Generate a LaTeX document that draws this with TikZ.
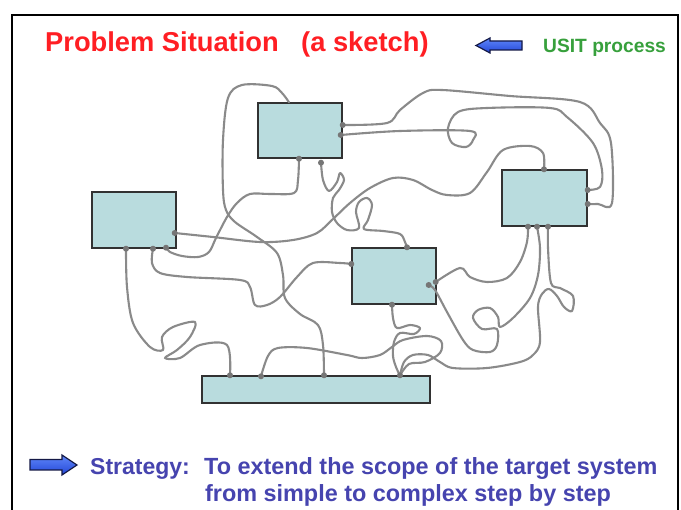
\documentclass[tikz,border=0pt]{standalone}
\usepackage{fontspec}
\setmainfont{Liberation Sans}
\definecolor{boxfill}{RGB}{185,220,222}
\definecolor{boxline}{RGB}{50,50,50}
\definecolor{wiregray}{RGB}{138,138,138}
\definecolor{dotgray}{RGB}{118,118,118}
\definecolor{titlered}{RGB}{255,30,35}
\definecolor{usitgreen}{RGB}{55,160,60}
\definecolor{stratblue}{RGB}{70,68,175}
\definecolor{arrowlight}{RGB}{95,135,250}
\definecolor{arrowdark}{RGB}{35,70,215}
\definecolor{arrowedge}{RGB}{20,25,70}
\begin{document}
\begin{tikzpicture}[x=1pt,y=-1pt,
  box/.style={draw=boxline,fill=boxfill,line width=1.4pt,inner sep=0pt},
  wire/.style={draw=wiregray,line width=2.1pt,line cap=round,line join=round},
  label/.style={inner sep=0pt,anchor=base west,font=\bfseries},
  blockarrow/.style={draw=arrowedge,line width=1.2pt,line join=miter,top color=arrowlight,bottom color=arrowdark}]
\useasboundingbox (0,0) rectangle (681,510);
\fill[white] (0,0) rectangle (681,510);
\draw[line width=1.5pt] (12,15) rectangle (678,530);

% headings
\node[label,text=titlered,font=\fontsize{27.3}{30}\selectfont\bfseries] (title) at (45,52) {Problem Situation};
\node[label,text=titlered,font=\fontsize{27.3}{30}\selectfont\bfseries] (sketch) at (301,52) {(a sketch)};
\draw[blockarrow] (476,45.5) -- (490,38) -- (490,41) -- (522,41) -- (522,50) -- (490,50) -- (490,53) -- cycle;
\node[label,text=usitgreen,font=\fontsize{19.2}{22}\selectfont\bfseries] (usit) at (543,53) {USIT process};

% blocks
\node[box,minimum width=84pt,minimum height=55pt] (A) at (300,130.5) {};
\node[box,minimum width=84pt,minimum height=56pt] (B) at (134,220) {};
\node[box,minimum width=85pt,minimum height=56pt] (C) at (544.5,198) {};
\node[box,minimum width=84pt,minimum height=56pt] (D) at (394,276) {};
\node[box,minimum width=228pt,minimum height=27pt] (E) at (316,389.5) {};

% ports on the blocks
\coordinate (pA0) at ([xshift=-11pt]A.north);
\coordinate (pA1) at ([xshift=-1pt]A.south);
\coordinate (pA2) at ([xshift=21pt,yshift=-4pt]A.south);
\coordinate (pA3) at ([yshift=5.5pt]A.east);
\coordinate (pA4) at ([xshift=-2pt,yshift=-4.5pt]A.east);
\coordinate (pB0) at ([xshift=-2pt,yshift=-13pt]B.east);
\coordinate (pB1) at ([xshift=-8pt]B.south);
\coordinate (pB2) at ([xshift=19pt]B.south);
\coordinate (pB3) at ([xshift=32pt,yshift=1pt]B.south);
\coordinate (pC0) at ([xshift=-0.5pt]C.north);
\coordinate (pC1) at ([yshift=8pt]C.east);
\coordinate (pC2) at ([yshift=-6pt]C.east);
\coordinate (pC3) at ([xshift=-16.5pt]C.south);
\coordinate (pC4) at ([xshift=-7.5pt]C.south);
\coordinate (pC5) at ([xshift=3.5pt]C.south);
\coordinate (pD0) at ([xshift=13pt]D.north);
\coordinate (pD1) at ([yshift=12pt]D.west);
\coordinate (pD2) at ([xshift=-1pt,yshift=-6pt]D.east);
\coordinate (pD3) at ([xshift=-8pt,yshift=-9pt]D.east);
\coordinate (pD4) at ([xshift=-2pt]D.south);
\coordinate (pE1) at ([xshift=-86pt]E.north);
\coordinate (pE2) at ([xshift=-55pt,yshift=-1pt]E.north);
\coordinate (pE3) at ([xshift=8pt]E.north);
\coordinate (pE4) at ([xshift=84pt]E.north);

% tangled connections
\begin{scope}[wire]
\draw plot[smooth,tension=0.55] coordinates {(pA0) (282,93) (272,86) (242,85) (228,98) (223,140) (223,190) (226,210) (235,222) (257,237) (277,253) (283,275) (285,298) (300,314) (318,325) (323,345) (pE3)};
\draw plot[smooth,tension=0.55] coordinates {(pA1) (298,180) (294,193) (270,194) (250,194) (237,203) (227,217) (216,238) (209,252) (198,257) (182,256) (170,252) (pB3)};
\draw plot[smooth,tension=0.55] coordinates {(pB0) (213,237) (260,242) (293,240) (317,233) (333,219) (350,203) (370,188) (393,178) (413,180) (432,190) (447,195) (470,193) (487,172) (503,150) (530,146) (543,153) (pC0)};
\draw plot[smooth,tension=0.55] coordinates {(pA2) (323,180) (329,191) (337,182) (340,173) (344,180) (339,190) (333,198) (332,212) (337,223) (347,230) (359,228) (356,212) (359,202) (367,198) (372,205) (368,220) (364,229) (383,231) (400,234) (405,242) (pD0)};
\draw plot[smooth,tension=0.55] coordinates {(pA3) (387,123) (400,110) (423,93) (442,90) (510,96) (580,102) (600,123) (611,143) (612,203) (598,204) (pC2)};
\draw plot[smooth,tension=0.55] coordinates {(pA4) (400,131) (470,131) (473,140) (466,147) (452,143) (448,128) (458,112) (487,108) (550,108) (567,117) (593,143) (602,170) (600,187) (pC1)};
\draw plot[smooth,tension=0.55] coordinates {(pB1) (127,287) (133,323) (150,347) (163,350) (162,337) (173,327) (195,322) (190,337) (177,350) (165,358) (180,358) (200,345) (227,345) (pE1)};
\draw plot[smooth,tension=0.55] coordinates {(pB2) (152,263) (160,273) (187,277) (240,280) (250,287) (255,305) (267,305) (280,297) (297,277) (313,263) (340,263) (pD1)};
\draw plot[smooth,tension=0.55] coordinates {(pD2) (460,268) (470,277) (487,282) (507,278) (520,262) (527,242) (pC3)};
\draw plot[smooth,tension=0.55] coordinates {(pD3) (435,290) (447,312) (463,340) (473,350) (490,352) (497,345) (497,329) (482,329) (473,318) (478,310) (490,308) (498,317) (500,327) (513,318) (530,298) (538,275) (540,248) (pC4)};
\draw plot[smooth,tension=0.55] coordinates {(pC5) (548,248) (551,283) (560,288) (573,296) (572,311) (564,307) (557,296) (549,289) (542,294) (538,307) (540,342) (533,355) (520,362) (487,368) (453,368) (440,362) (428,355) (413,355) (404,362) (pE4)};
\draw plot[smooth,tension=0.55] coordinates {(pD4) (393,318) (397,328) (410,325) (420,328) (414,334) (400,333) (394,342) (393,356) (396,367) (pE4)};
\draw plot[smooth,tension=0.55] coordinates {(pE2) (268,356) (278,348) (307,348) (347,355) (362,358) (380,355) (392,347) (403,340) (427,336) (441,341) (440,353) (425,362) (409,364) (pE4)};
\end{scope}

% solder dots at the port ends
\foreach \p in {pA1,pA2,pA3,pA4,pB0,pB1,pB2,pB3,pC0,pC1,pC2,pC3,pC4,pC5,pD0,pD1,pD2,pD3,pD4,pE1,pE2,pE3,pE4}
  \fill[dotgray] (\p) circle (3pt);

% strategy line
\draw[blockarrow] (30,459.5) -- (62,459.5) -- (62,455) -- (77,465) -- (62,475) -- (62,470) -- (30,470) -- cycle;
\node[label,text=stratblue,font=\fontsize{23}{26}\selectfont\bfseries] (strat) at (90,475) {Strategy:};
\node[label,text=stratblue,font=\fontsize{23.4}{26}\selectfont\bfseries] (line1) at (204,475) {To extend the scope of the target system};
\node[label,text=stratblue,font=\fontsize{23.4}{26}\selectfont\bfseries] (line2) at (205,502) {from simple to complex step by step};
\end{tikzpicture}
\end{document}
